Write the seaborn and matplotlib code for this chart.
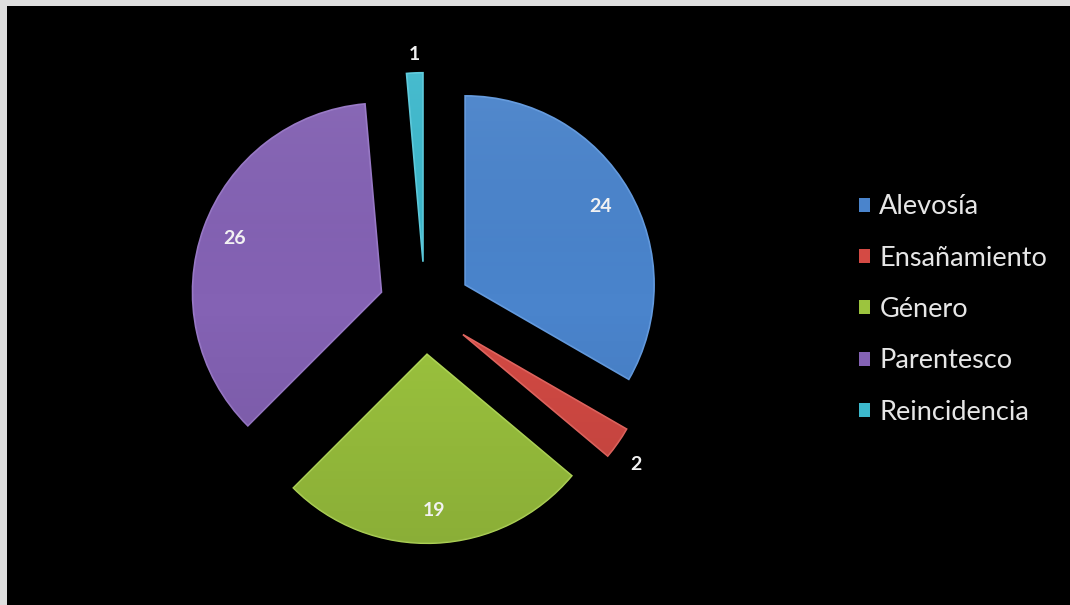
import matplotlib
matplotlib.use("Agg")
import matplotlib.pyplot as plt
import matplotlib.patches as mpatches
from matplotlib.colors import LinearSegmentedColormap
import numpy as np
import seaborn as sns

# Data
categories = ["Alevosía", "Ensañamiento", "Género", "Parentesco", "Reincidencia"]
values = [24, 2, 19, 26, 1]
colors = ["#4a84cc", "#d44a44", "#9cc43e", "#8462b4", "#3cb8cc"]
edge_colors = ["#639ade", "#e2655f", "#b0d656", "#9878c6", "#5ccadc"]

sns.set_theme(style="dark")
plt.rcParams["font.family"] = ["Lato", "DejaVu Sans"]

W, H = 1070, 605
fig = plt.figure(figsize=(W / 100, H / 100), dpi=100, facecolor="#dfdfdf")

# black chart area inside the light frame
fig.patches.append(mpatches.Rectangle((7 / W, 0), 1, (H - 6) / H,
                                      transform=fig.transFigure,
                                      facecolor="black", edgecolor="none", zorder=-10))

# pie axes: centre at (425, 308) px, radius 189 px
cx, cy, R = 425, 308, 189
half = 250
ax = fig.add_axes([(cx - half) / W, (H - cy - half) / H, 2 * half / W, 2 * half / H])
ax.set_facecolor("none")
ax.set_zorder(5)

explode = [0.245] * len(values)
wedges, _ = ax.pie(values, colors=colors, startangle=90, counterclock=False,
                   explode=explode, radius=1.0,
                   wedgeprops=dict(linewidth=1.2))
for w, ec in zip(wedges, edge_colors):
    w.set_edgecolor(ec)

lim = half / R

# soft top-light / bottom-dark shading on each slice
shade = LinearSegmentedColormap.from_list(
    "shade", [(0, 0, 0, 0.12), (0, 0, 0, 0.0), (1, 1, 1, 0.07)])
grad = np.linspace(0, 1, 256).reshape(-1, 1)
for w in wedges:
    im = ax.imshow(grad, cmap=shade, origin="lower", aspect="auto",
                   extent=(-lim, lim, -lim, lim), zorder=w.get_zorder() + 0.1,
                   interpolation="bilinear")
    im.set_clip_path(w)

ax.set_xlim(-lim, lim)
ax.set_ylim(-lim, lim)
ax.set_aspect("equal")
ax.axis("off")

# value labels: inside big slices, just outside tiny ones
total = sum(values)
for w, v in zip(wedges, values):
    ang = np.deg2rad((w.theta1 + w.theta2) / 2)
    inside = v / total > 0.1
    if inside:
        dist, va = 0.83, "center"
    elif np.sin(ang) < 0:
        dist, va = 1.12, "top"
    else:
        dist, va = 1.10, "center"
    x = w.center[0] + dist * w.r * np.cos(ang)
    y = w.center[1] + dist * w.r * np.sin(ang)
    ax.text(x, y, str(v), ha="center", va=va, color="#f2f2f2",
            fontsize=14, fontweight="bold", zorder=10)

handles = [mpatches.Patch(facecolor=c, edgecolor="none") for c in colors]
leg = fig.legend(handles, categories, loc="center left",
                 bbox_to_anchor=(845 / W, (H - 309.5) / H),
                 frameon=False, fontsize=19.5, labelcolor="#e6e6e6",
                 handlelength=0.42, handleheight=0.42, handletextpad=0.35,
                 labelspacing=0.97, borderpad=0)
leg.set_zorder(6)

fig.savefig("out.png", dpi=100, facecolor=fig.get_facecolor())
